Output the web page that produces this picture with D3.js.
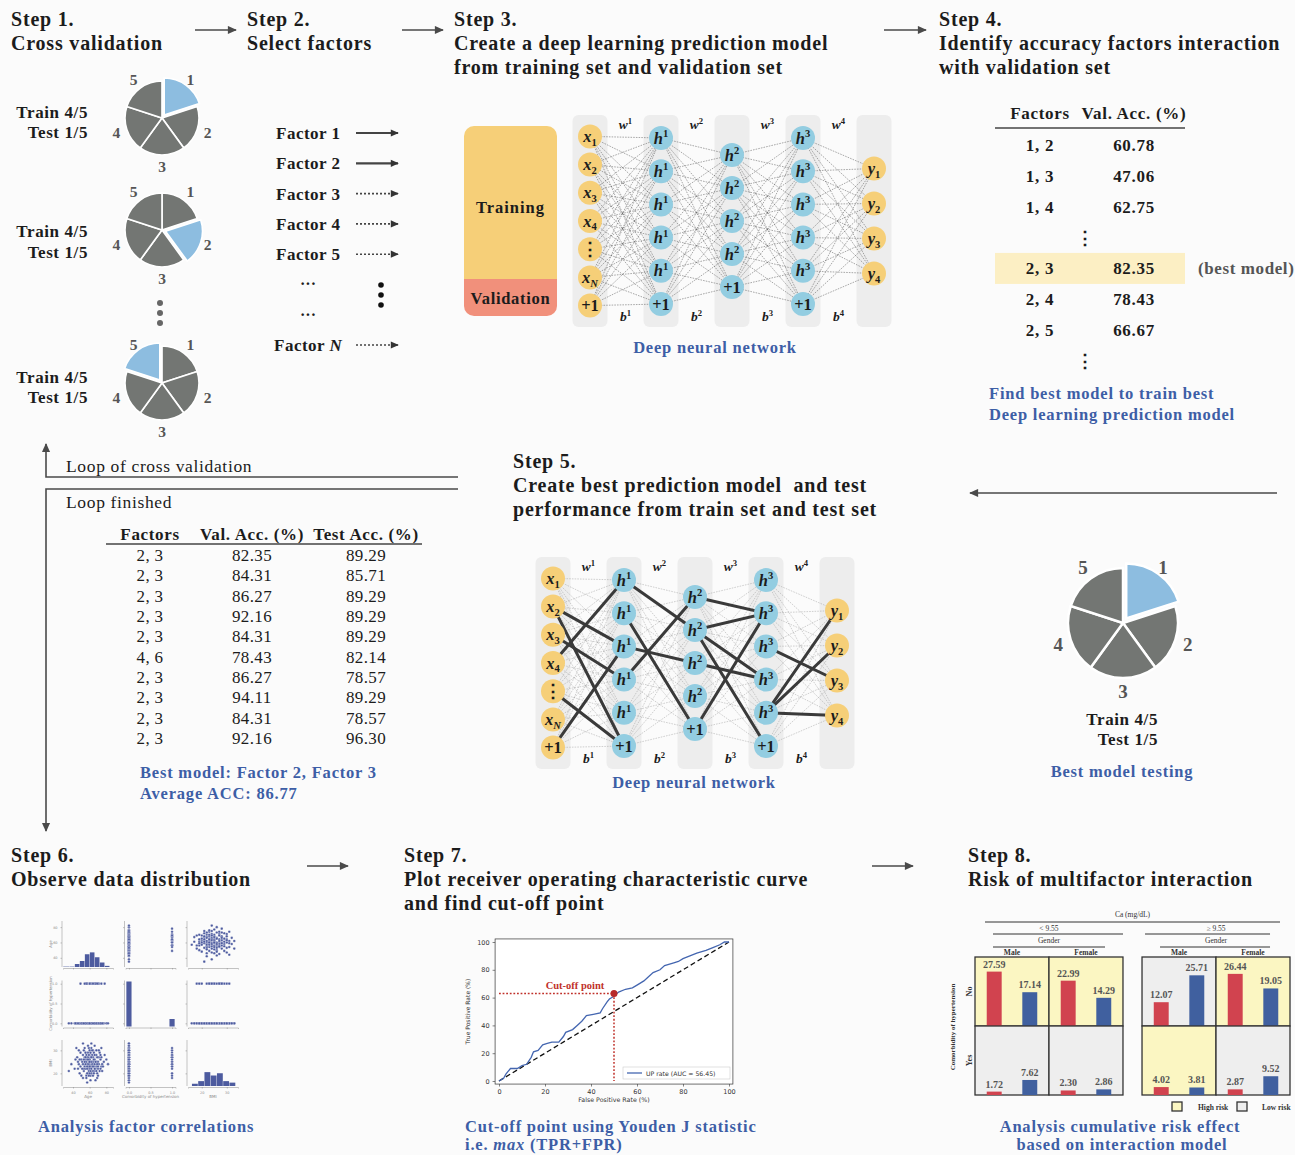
<!DOCTYPE html>
<html><head><meta charset="utf-8">
<script src="https://cdn.jsdelivr.net/npm/d3@7"></script>
<style>body{margin:0;background:#fbfbfb} svg{display:block}</style>
</head><body><svg id="c" width="1295" height="1155"></svg>
<script>
// ---------------- DATA ----------------
const stepTitles = [
  ["Step 1.", "Cross validation"],
  ["Step 2.", "Select factors"],
  ["Step 3.", "Create a deep learning prediction model", "from training set and validation set"],
  ["Step 4.", "Identify accuracy factors interaction", "with validation set"],
  ["Step 5.", "Create best prediction model \u00a0and test", "performance from train set and test set"],
  ["Step 6.", "Observe data distribution"],
  ["Step 7.", "Plot receiver operating characteristic curve", "and find cut-off point"],
  ["Step 8.", "Risk of multifactor interaction"]
];
const foldLabels = ["1", "2", "3", "4", "5"];
const foldShares = [1, 1, 1, 1, 1];
const cvTestFold = [0, 1, 4];           // highlighted (test) fold in the three CV pies
const factorNames = ["Factor 1", "Factor 2", "Factor 3", "Factor 4", "Factor 5"];
const factorSelected = [true, true, false, false, false];
const nnLabels = [
  ["x_1", "x_2", "x_3", "x_4", "⋮", "x_N", "+1"],
  ["h^1", "h^1", "h^1", "h^1", "h^1", "+1"],
  ["h^2", "h^2", "h^2", "h^2", "+1"],
  ["h^3", "h^3", "h^3", "h^3", "h^3", "+1"],
  ["y_1", "y_2", "y_3", "y_4"]
];
const nnStrongEdges = [ // [layer, fromNode, toNode] highlighted in the best model
  [0,3,0],[0,1,2],[0,1,5],[0,2,3],[0,4,5],[0,6,2],
  [1,0,1],[1,1,4],[1,2,2],[1,3,0],
  [2,0,1],[2,1,1],[2,1,5],[2,1,3],[2,2,3],[2,4,1],
  [3,2,2],[3,4,0],[3,4,1],[3,4,3]
];
const valFactors = ["1, 2", "1, 3", "1, 4", "⋮", "2, 3", "2, 4", "2, 5", "⋮"];
const valAcc = ["60.78", "47.06", "62.75", "", "82.35", "78.43", "66.67", ""];
const bestRow = 4;
const loopFactors = ["2, 3","2, 3","2, 3","2, 3","2, 3","4, 6","2, 3","2, 3","2, 3","2, 3"];
const loopVal = [82.35, 84.31, 86.27, 92.16, 84.31, 78.43, 86.27, 94.11, 84.31, 92.16];
const loopTest = [89.29, 85.71, 89.29, 89.29, 89.29, 82.14, 78.57, 89.29, 78.57, 96.30];
// Step 6 sample: [age, bmi, hypertension]
const sample = [
 [58,22,0],[63,25,0],[71,27,1],[49,23,0],[66,21,0],[55,26,0],[60,24,1],[74,23,0],[52,28,0],[68,25,0],
 [61,19,0],[57,24,0],[45,27,0],[64,30,1],[70,22,0],[59,26,0],[53,21,0],[67,28,0],[62,23,0],[56,25,1],
 [48,20,0],[73,26,0],[65,24,0],[58,29,0],[61,27,1],[54,23,0],[69,20,0],[60,22,0],[77,25,0],[51,25,0],
 [63,21,0],[57,27,0],[66,26,1],[59,23,0],[72,29,0],[47,24,0],[62,31,0],[55,22,0],[68,23,1],[64,27,0],
 [50,26,0],[58,20,0],[75,24,0],[61,25,0],[53,30,0],[67,22,1],[60,28,0],[56,19,0],[70,25,0],[65,23,0],
 [42,22,0],[59,25,0],[63,28,1],[57,22,0],[71,24,0],[54,27,0],[66,24,0],[62,20,0],[49,29,1],[60,26,0],
 [68,21,0],[55,24,0],[73,22,0],[58,27,0],[64,25,1],[52,24,0],[61,23,0],[80,26,0],[46,25,0],[65,29,0],
 [59,21,0],[63,24,0],[56,28,1],[69,27,0],[62,25,0],[54,25,0],[67,25,0],[60,20,1],[57,26,0],[72,21,0],
 [48,26,0],[66,22,0],[61,29,0],[58,24,0],[74,27,1],[53,22,0],[64,21,0],[59,28,0],[70,23,0],[55,27,0],
 [38,24,0],[62,27,0],[65,26,0],[57,23,1],[68,28,0],[60,25,0],[51,22,0],[63,23,0],[76,23,0],[58,26,0],
 [44,31,0],[82,24,0],[35,21,0],[66,32,0],[61,17,0],[78,28,1],[52,33,0],[69,18,0],[47,30,0],[57,16,0],
 [64,19,0],[59,31,0],[71,30,0],[56,18,1],[62,33,0],[67,17,0],[50,19,0],[74,31,0],[43,26,0],[60,30,0],
 [65,20,0],[58,32,0],[55,29,0],[70,19,1],[63,30,0],[52,18,0],[61,21,0],[68,30,0],[57,20,0],[73,28,0],
 [46,22,0],[66,28,0],[54,31,1],[62,22,0],[59,19,0],[75,21,0],[64,23,0],[53,26,0],[60,23,0],[69,24,1]
];
const sampleVars = ["Age", "Comorbidity of hypertension", "BMI"];
// Step 7 ROC curve (%)
const rocFPR = [0,2,3,5,8,10,12,14,15,17,19,21,23,26,28,29,32,34,36,38,41,44,45,47,48,50,52,55,58,60,63,65,67,70,72,76,78,80,83,86,90,93,96,98,100];
const rocTPR = [0,2,5,9,9,11,12,17,21,22,26,27,28,28,32,35,37,40,43,47,48,49,52,57,59,61,64,66,67,69,72,75,78,80,83,85,86,88,90,92,94,96,98,100,100];
const rocTicks = [0, 20, 40, 60, 80, 100];
const cutoffPoint = [50, 63];
const rocLegend = "UP rate (AUC = 56.45)";
// Step 8 cumulative risk
const caGroups = ["< 9.55", "≥ 9.55"];
const genders = ["Male", "Female"];
const htnLevels = ["No", "Yes"];
const riskRed  = [[27.59, 22.99, 12.07, 26.44], [1.72, 2.30, 4.02, 2.87]];
const riskBlue = [[17.14, 14.29, 25.71, 19.05], [7.62, 2.86, 3.81, 9.52]];
const highRisk = [[1, 1, 0, 1], [0, 0, 1, 0]];

// ---------------- STYLE ----------------
const SERIF = "'Liberation Serif','Times New Roman',serif";
const SANS = "'DejaVu Sans',sans-serif";
const INK = "#1c1c1c", BLUE = "#3d5ea6", GT = "#555", LINE = "#4a4a4a";
const YEL = "#f6cf78", SKY = "#93cde1", SLATE = "#737673", FOLD = "#8dbde0";
const CAP = { fs: 16.5, fill: BLUE, ls: 0.8 };

const svg = d3.select("#c");
svg.append("rect").attr("width", 1295).attr("height", 1155).attr("fill", "#fbfbfb");
const defs = svg.append("defs");
function marker(id, w, h, color) {
  defs.append("marker").attr("id", id).attr("viewBox", "0 0 10 10").attr("refX", 9).attr("refY", 5)
    .attr("markerWidth", w).attr("markerHeight", h).attr("markerUnits", "userSpaceOnUse")
    .attr("orient", "auto-start-reverse")
    .append("path").attr("d", "M0,0.5 L10,5 L0,9.5 Z").attr("fill", color);
}
marker("ah", 11, 9, LINE);
marker("ahs", 9, 8, "#333");

function text(g, x, y, s, o = {}) {
  return g.append("text").attr("x", x).attr("y", y).text(s)
    .attr("font-family", o.ff || SERIF).attr("font-size", o.fs || 16)
    .attr("font-weight", o.fw || "bold").attr("fill", o.fill || INK)
    .attr("text-anchor", o.anchor || "start")
    .attr("letter-spacing", o.ls || null);
}
function header(x, y, lines) {
  const t = svg.append("text").attr("font-family", SERIF).attr("font-size", 20)
    .attr("font-weight", "bold").attr("fill", INK).attr("letter-spacing", 0.8);
  lines.forEach((l, i) => t.append("tspan").attr("x", x).attr("y", y + i * 24).text(l));
}
function arrow(x1, y1, x2, y2, o = {}) {
  svg.append("line").attr("x1", x1).attr("y1", y1).attr("x2", x2).attr("y2", y2)
    .attr("stroke", o.color || LINE).attr("stroke-width", o.w || 1.6)
    .attr("stroke-dasharray", o.dash || null).attr("marker-end", `url(#${o.m || "ah"})`);
}
function rich(g, x, y, s, fs, o = {}) {
  const t = g.append("text").attr("x", x).attr("y", y).attr("text-anchor", "middle")
    .attr("font-family", SERIF).attr("font-size", fs).attr("font-weight", "bold").attr("fill", o.fill || INK);
  const m = s.match(/^(.+)([_^])(.+)$/);
  if (m) {
    t.append("tspan").attr("font-style", "italic").text(m[1]);
    t.append("tspan").attr("font-size", fs * 0.64).attr("dy", m[2] === "_" ? fs * 0.22 : -fs * 0.4)
      .attr("font-style", /\d/.test(m[3]) ? "normal" : "italic").text(m[3]);
  } else t.text(s);
  return t;
}

// headers
const headerPos = [[11,26],[247,26],[454,26],[939,26],[513,468],[11,862],[404,862],[968,862]];
stepTitles.forEach((l, i) => header(headerPos[i][0], headerPos[i][1], l));
// step arrows
arrow(195, 30, 236, 30); arrow(402, 30, 443, 30); arrow(884, 30, 926, 30);
arrow(1277, 493, 970, 493);
arrow(307, 866, 348, 866); arrow(872, 866, 913, 866);

// ---------------- FOLD PIES ----------------
const pieGen = d3.pie().sort(null).value(d => d);
function foldPie(cx, cy, r, hi, fs, lr) {
  const g = svg.append("g").attr("transform", `translate(${cx},${cy})`);
  const arcs = pieGen(foldShares);
  const arc = d3.arc().innerRadius(0).outerRadius(r);
  g.selectAll("path").data(arcs).join("path")
    .attr("d", arc)
    .attr("transform", (d, i) => {
      if (i !== hi) return null;
      const a = (d.startAngle + d.endAngle) / 2, off = r * 0.1;
      return `translate(${Math.sin(a) * off},${-Math.cos(a) * off})`;
    })
    .attr("fill", (d, i) => i === hi ? FOLD : SLATE)
    .attr("stroke", "#fff").attr("stroke-width", r * 0.045);
  g.selectAll("text").data(arcs).join("text")
    .attr("x", d => Math.sin((d.startAngle + d.endAngle) / 2) * r * lr)
    .attr("y", d => -Math.cos((d.startAngle + d.endAngle) / 2) * r * lr)
    .attr("dy", "0.35em").attr("text-anchor", "middle")
    .attr("font-family", SERIF).attr("font-size", fs).attr("font-weight", "bold").attr("fill", GT)
    .text((d, i) => foldLabels[i]);
}
const cvY = [118, 230, 383];
cvY.forEach((y, i) => {
  foldPie(162, y, 37, cvTestFold[i], 15.5, 1.3);
  text(svg, 88, y + (i === 1 ? 7 : 0), "Train 4/5", { anchor: "end", fs: 17, ls: 0.6 });
  text(svg, 88, y + (i === 1 ? 28 : 20), "Test 1/5", { anchor: "end", fs: 17, ls: 0.6 });
});
[303, 313, 323].forEach(y => svg.append("circle").attr("cx", 160).attr("cy", y).attr("r", 3).attr("fill", "#666"));

// ---------------- STEP 2 ----------------
factorNames.forEach((f, i) => {
  const y = 133 + i * 30.3;
  text(svg, 276, y + 6, f, { fs: 17, ls: 0.5 });
  if (factorSelected[i]) arrow(356, y, 398, y, { color: "#444", w: 2.2, m: "ahs" });
  else arrow(356, y, 398, y, { color: "#444", w: 1.6, dash: "2,2", m: "ahs" });
});
text(svg, 308, 289, "···", { anchor: "middle", fs: 16 });
text(svg, 308, 320, "···", { anchor: "middle", fs: 16 });
[285, 295, 305].forEach(y => svg.append("circle").attr("cx", 381).attr("cy", y).attr("r", 2.8).attr("fill", "#111"));
{
  const t = text(svg, 274, 351, "Factor ", { fs: 17, ls: 0.5 });
  t.append("tspan").attr("font-style", "italic").text("N");
  arrow(356, 345, 398, 345, { color: "#444", w: 1.6, dash: "2,2", m: "ahs" });
}

// ---------------- STEP 3 ----------------
{
  const g = svg.append("g");
  const cp = g.append("clipPath").attr("id", "tvclip");
  cp.append("rect").attr("x", 464).attr("y", 126).attr("width", 93).attr("height", 190).attr("rx", 10);
  const b = g.append("g").attr("clip-path", "url(#tvclip)");
  b.append("rect").attr("x", 464).attr("y", 126).attr("width", 93).attr("height", 153).attr("fill", YEL);
  b.append("rect").attr("x", 464).attr("y", 279).attr("width", 93).attr("height", 37).attr("fill", "#f1907b");
  text(g, 510.5, 213, "Training", { anchor: "middle", fs: 16.5, ls: 1 });
  text(g, 510.5, 304, "Validation", { anchor: "middle", fs: 16.5, ls: 0.7 });
}
const nnGap = [28.2, 33.2, 33, 33.2, 35];
function drawNN(x0, cy, top, bottom, strong, thin) {
  const g = svg.append("g");
  const lx = d3.scalePoint().domain(d3.range(nnLabels.length)).range([x0, x0 + 284]);
  const pos = nnLabels.map((labs, li) => labs.map((lab, ni) => ({
    x: lx(li), y: cy + (ni - (labs.length - 1) / 2) * nnGap[li], lab, li })));
  g.selectAll("rect.col").data(nnLabels).join("rect").attr("class", "col")
    .attr("x", (d, i) => lx(i) - 17.5).attr("y", top).attr("width", 35).attr("height", bottom - top)
    .attr("rx", 6).attr("fill", "#ededed");
  const edges = [];
  for (let li = 0; li < pos.length - 1; li++)
    pos[li].forEach(a => pos[li + 1].forEach(b => edges.push([a, b])));
  g.append("g").selectAll("line").data(edges).join("line")
    .attr("x1", d => d[0].x).attr("y1", d => d[0].y).attr("x2", d => d[1].x).attr("y2", d => d[1].y)
    .attr("stroke", thin.c).attr("stroke-width", thin.w).attr("stroke-dasharray", "1.6,1.1");
  g.append("g").selectAll("line").data(strong).join("line")
    .attr("x1", d => pos[d[0]][d[1]].x).attr("y1", d => pos[d[0]][d[1]].y)
    .attr("x2", d => pos[d[0] + 1][d[2]].x).attr("y2", d => pos[d[0] + 1][d[2]].y)
    .attr("stroke", "#3a3a3a").attr("stroke-width", 3).attr("stroke-linecap", "round");
  const nodes = pos.flat();
  g.append("g").selectAll("circle").data(nodes).join("circle")
    .attr("cx", d => d.x).attr("cy", d => d.y).attr("r", 12)
    .attr("fill", d => (d.li === 0 || d.li === nnLabels.length - 1) ? YEL : SKY);
  nodes.forEach(d => rich(g, d.x, d.y + 5.5, d.lab, d.lab === "⋮" ? 18 : 16.5));
  for (let li = 0; li < nnLabels.length - 1; li++) {
    const mx = (lx(li) + lx(li + 1)) / 2;
    rich(g, mx, top + 14, "w^" + (li + 1), 13.5);
    rich(g, mx, bottom - 6, "b^" + (li + 1), 13.5);
  }
  return g;
}
drawNN(590, 221, 115, 327, [], { c: "#555", w: 0.5 });
text(svg, 715, 353, "Deep neural network", Object.assign({ anchor: "middle" }, CAP));

// ---------------- STEP 4 ----------------
{
  const g = svg.append("g");
  const rowY = d3.scalePoint().domain(d3.range(valFactors.length)).range([145, 361]);
  const T = { anchor: "middle", fs: 17, ls: 0.7 };
  g.append("rect").attr("x", 995).attr("y", rowY(bestRow) - 15.5).attr("width", 190).attr("height", 31).attr("fill", "#fcefc4");
  text(g, 1040, 119, "Factors", T);
  text(g, 1134, 119, "Val. Acc. (%)", T);
  g.append("line").attr("x1", 995).attr("x2", 1185).attr("y1", 128).attr("y2", 128).attr("stroke", "#444").attr("stroke-width", 1.5);
  valFactors.forEach((f, i) => {
    if (f === "⋮") { text(g, 1085, rowY(i) + 6, "⋮", { anchor: "middle", fs: 18 }); return; }
    text(g, 1040, rowY(i) + 6, f, T);
    text(g, 1134, rowY(i) + 6, valAcc[i], T);
  });
  text(g, 1198, rowY(bestRow) + 6, "(best model)", { fs: 17, fill: GT, ls: 0.6 });
  text(g, 989, 399, "Find best model to train best", CAP);
  text(g, 989, 420, "Deep learning prediction model", CAP);
}

// ---------------- LOOP ----------------
svg.append("path").attr("d", "M458,477 H46 V444").attr("fill", "none").attr("stroke", LINE).attr("stroke-width", 1.6).attr("marker-end", "url(#ah)");
svg.append("path").attr("d", "M458,489 H46 V831").attr("fill", "none").attr("stroke", LINE).attr("stroke-width", 1.6).attr("marker-end", "url(#ah)");
text(svg, 66, 472, "Loop of cross validation", { fw: "normal", fs: 17.5, ls: 0.65 });
text(svg, 66, 508, "Loop finished", { fw: "normal", fs: 17.5, ls: 0.65 });
{
  const g = svg.append("g");
  const cols = [150, 252, 366];
  ["Factors", "Val. Acc. (%)", "Test Acc. (%)"].forEach((h, i) => text(g, cols[i], 540, h, { anchor: "middle", fs: 17, ls: 0.65 }));
  g.append("line").attr("x1", 106).attr("x2", 422).attr("y1", 544).attr("y2", 544).attr("stroke", "#444").attr("stroke-width", 1.3);
  const ry = d3.scalePoint().domain(d3.range(loopFactors.length)).range([555, 738]);
  const R = { anchor: "middle", fw: "normal", fs: 17, ls: 0.35 };
  loopFactors.forEach((f, i) => {
    text(g, cols[0], ry(i) + 6, f, R);
    text(g, cols[1], ry(i) + 6, loopVal[i].toFixed(2), R);
    text(g, cols[2], ry(i) + 6, loopTest[i].toFixed(2), R);
  });
  text(g, 140, 778, "Best model: Factor 2, Factor 3", CAP);
  text(g, 140, 799, "Average ACC: " + d3.mean(loopTest).toFixed(2), CAP);
}

// ---------------- STEP 5 ----------------
drawNN(553, 663, 557, 769, nnStrongEdges, { c: "#999", w: 0.45 });
text(svg, 694, 788, "Deep neural network", Object.assign({ anchor: "middle" }, CAP));
foldPie(1123, 623, 55, 0, 19, 1.24);
text(svg, 1158, 725, "Train 4/5", { anchor: "end", fs: 17, ls: 0.6 });
text(svg, 1158, 745, "Test 1/5", { anchor: "end", fs: 17, ls: 0.6 });
text(svg, 1122, 777, "Best model testing", Object.assign({ anchor: "middle" }, CAP));

// ---------------- STEP 6: pair plot ----------------
{
  const g = svg.append("g");
  const acc = [d => d[0], d => d[2], d => d[1]];
  const doms = [[28, 88], [-0.08, 1.08], [14.5, 34.5]];
  const tickVals = [[40, 60, 80], [0, 0.5, 1], [20, 30]];
  const W = 50, H = 46;
  const px = j => 63 + j * 62.5, py = i => 921 + i * 59.5;
  const PT = "#4d5b9f";
  const binsFor = j => d3.bin().value(acc[j]).domain(doms[j])
    .thresholds(j === 1 ? [0.08, 0.92] : (j === 0 ? d3.range(36, 88, 6) : d3.range(16, 34.5, 2.5)))(sample);
  const allBins = [0, 1, 2].map(binsFor);
  const hMax = d3.max(allBins.flat(), b => b.length);
  for (let i = 0; i < 3; i++) for (let j = 0; j < 3; j++) {
    const p = g.append("g").attr("transform", `translate(${px(j)},${py(i)})`);
    const x = d3.scaleLinear().domain(doms[j]).range([0, W]);
    let y;
    if (i === j) {
      const bins = allBins[j];
      y = d3.scaleLinear().domain([0, hMax]).range([H, 1]);
      const cat = j === 1;
      p.selectAll("rect").data(bins.filter(b => b.length)).join("rect")
        .attr("x", b => cat ? x(acc[j](b[0]) - 0.06) : x(b.x0) + 0.2)
        .attr("width", b => cat ? x(0.12) - x(0) : Math.max(0, x(b.x1) - x(b.x0) - 0.4))
        .attr("y", b => y(b.length)).attr("height", b => H - y(b.length)).attr("fill", PT);
    } else {
      y = d3.scaleLinear().domain(doms[i]).range([H, 0]);
      p.selectAll("circle").data(sample).join("circle")
        .attr("cx", d => x(acc[j](d))).attr("cy", d => y(acc[i](d))).attr("r", 1.3)
        .attr("fill", PT).attr("stroke", "#fff").attr("stroke-width", 0.3);
    }
    const ax = p.append("g").attr("transform", `translate(0,${H + 1})`)
      .call(d3.axisBottom(x).tickValues(tickVals[j]).tickSize(1.5).tickFormat(d3.format(j === 1 ? ".1f" : "")));
    const ay = p.append("g").attr("transform", "translate(-1,0)")
      .call(d3.axisLeft(i === j ? d3.scaleLinear().domain(doms[i]).range([H, 0]) : y).tickValues(tickVals[i]).tickSize(1.5)
        .tickFormat(d3.format(i === 1 ? ".1f" : "")));
    [ax, ay].forEach(a => {
      a.selectAll("path,line").attr("stroke", "#888").attr("stroke-width", 0.5);
      a.selectAll("text").attr("font-size", 3.4).attr("fill", "#888").attr("font-family", SANS);
    });
    ay.select(".domain").attr("d", `M0,${H}V0`);
    if (i !== 2) ax.selectAll("text").remove();
    if (j !== 0) ay.selectAll("text").remove();
    if (j === 0) p.append("text").attr("transform", `translate(-11,${H / 2}) rotate(-90)`).attr("text-anchor", "middle")
      .attr("font-size", 3.8).attr("font-family", SANS).attr("fill", "#888").text(sampleVars[i]);
    if (i === 2) p.append("text").attr("x", W / 2).attr("y", H + 12).attr("text-anchor", "middle")
      .attr("font-size", 4).attr("font-family", SANS).attr("fill", "#888").text(sampleVars[j]);
  }
  text(svg, 38, 1132, "Analysis factor correlations", CAP);
}

// ---------------- STEP 7: ROC ----------------
{
  const g = svg.append("g");
  const x = d3.scaleLinear().domain([0, 100]).range([499, 729]);
  const y = d3.scaleLinear().domain([0, 100]).range([1081, 942]);
  g.append("rect").attr("x", x(-1.7)).attr("y", y(102.2)).attr("width", x(101.7) - x(-1.7))
    .attr("height", y(-2.2) - y(102.2)).attr("fill", "#fff").attr("stroke", "#333").attr("stroke-width", 0.7);
  const ax = g.append("g").attr("transform", `translate(0,${y(-2.2)})`).call(d3.axisBottom(x).tickValues(rocTicks).tickSize(2.5));
  const ay = g.append("g").attr("transform", `translate(${x(-1.7)},0)`).call(d3.axisLeft(y).tickValues(rocTicks).tickSize(2.5));
  [ax, ay].forEach(a => {
    a.select(".domain").remove();
    a.selectAll("line").attr("stroke", "#333").attr("stroke-width", 0.6);
    a.selectAll("text").attr("font-size", 6.5).attr("fill", "#333").attr("font-family", SANS);
  });
  g.append("text").attr("transform", `translate(470,${y(50)}) rotate(-90)`).attr("text-anchor", "middle")
    .attr("font-size", 6).attr("font-family", SANS).attr("fill", "#333").text("True Positive Rate (%)");
  g.append("text").attr("x", x(50)).attr("y", 1102).attr("text-anchor", "middle")
    .attr("font-size", 6.3).attr("font-family", SANS).attr("fill", "#333").text("False Positive Rate (%)");
  g.append("line").attr("x1", x(0)).attr("y1", y(0)).attr("x2", x(100)).attr("y2", y(100))
    .attr("stroke", "#111").attr("stroke-width", 1.3).attr("stroke-dasharray", "5,3");
  const pts = rocFPR.map((f, i) => [f, rocTPR[i]]);
  g.append("path").attr("d", d3.line().x(d => x(d[0])).y(d => y(d[1]))(pts))
    .attr("fill", "none").attr("stroke", "#4466b0").attr("stroke-width", 1.3);
  g.append("path").attr("d", `M${x(0)},${y(cutoffPoint[1])}H${x(cutoffPoint[0])}V${y(0)}`)
    .attr("fill", "none").attr("stroke", "#c0302a").attr("stroke-width", 1.5).attr("stroke-dasharray", "1.8,1.8");
  g.append("circle").attr("cx", x(cutoffPoint[0])).attr("cy", y(cutoffPoint[1])).attr("r", 3.5).attr("fill", "#b8292a");
  text(g, 575, 989, "Cut-off point", { anchor: "middle", fs: 10.5, fill: "#c0302a" });
  g.append("rect").attr("x", 623).attr("y", 1067).attr("width", 107).attr("height", 12)
    .attr("fill", "#fff").attr("stroke", "#ccc").attr("stroke-width", 0.6);
  g.append("line").attr("x1", 627).attr("x2", 642).attr("y1", 1073).attr("y2", 1073).attr("stroke", "#4466b0").attr("stroke-width", 1.3);
  g.append("text").attr("x", 646).attr("y", 1075.5).attr("font-size", 6.2).attr("font-family", SANS).attr("fill", "#333").text(rocLegend);
  text(svg, 465, 1132, "Cut-off point using Youden J statistic", CAP);
  const t = text(svg, 465, 1150, "i.e. ", CAP);
  t.append("tspan").attr("font-style", "italic").text("max");
  t.append("tspan").text(" (TPR+FPR)");
}

// ---------------- STEP 8: risk bars ----------------
{
  const g = svg.append("g");
  const gx = d3.scaleBand().domain(caGroups).range([975, 1290]).paddingInner(0.114);
  const sx = d3.scaleBand().domain(genders).range([0, gx.bandwidth()]);
  const ry = d3.scaleBand().domain(htnLevels).range([957, 1095]);
  const bx = d3.scaleBand().domain(["red", "blue"]).range([0, sx.bandwidth()]).paddingInner(0.58).paddingOuter(0.33);
  const vy = d3.scaleLinear().domain([0, 35]).range([0, ry.bandwidth()]);
  const small = (x, y, s, o = {}) => text(g, x, y, s, Object.assign({ fs: 7.5, fw: "normal", fill: "#333", anchor: "middle" }, o));
  small((975 + 1290) / 2, 917, "Ca (mg/dL)");
  g.append("line").attr("x1", 985).attr("x2", 1280).attr("y1", 922).attr("y2", 922).attr("stroke", "#333").attr("stroke-width", 1);
  caGroups.forEach((cg, k) => {
    const x0 = gx(cg), w = gx.bandwidth();
    small(x0 + w / 2, 931, cg);
    g.append("line").attr("x1", x0 + (k ? 3 : 18)).attr("x2", x0 + (k ? 128 : 148)).attr("y1", 934).attr("y2", 934).attr("stroke", "#333");
    small(x0 + w / 2, 943, "Gender");
    g.append("line").attr("x1", x0 + 18).attr("x2", x0 + (k ? 128 : 130)).attr("y1", 947).attr("y2", 947).attr("stroke", "#333");
    genders.forEach(gd => small(x0 + sx(gd) + sx.bandwidth() / 2, 955, gd, { fw: "bold" }));
    htnLevels.forEach((h, r) => genders.forEach((gd, s) => {
      const c = k * 2 + s, cx = x0 + sx(gd), cy = ry(h), cw = sx.bandwidth(), ch = ry.bandwidth();
      g.append("rect").attr("x", cx).attr("y", cy).attr("width", cw).attr("height", ch)
        .attr("fill", highRisk[r][c] ? "#fbf6c2" : "#eeeeee").attr("stroke", "#333").attr("stroke-width", 1.3);
      [["red", riskRed[r][c], "#d1434f"], ["blue", riskBlue[r][c], "#40609f"]].forEach(([key, v, col]) => {
        g.append("rect").attr("x", cx + bx(key)).attr("width", bx.bandwidth())
          .attr("y", cy + ch - vy(v)).attr("height", vy(v)).attr("fill", col);
        text(g, cx + bx(key) + bx.bandwidth() / 2, cy + ch - vy(v) - 4, v.toFixed(2),
          { anchor: "middle", fs: 10, fw: "bold", fill: "#555" });
      });
    }));
  });
  htnLevels.forEach(h => g.append("text").attr("transform", `translate(972,${ry(h) + ry.bandwidth() / 2}) rotate(-90)`)
    .attr("text-anchor", "middle").attr("font-family", SERIF).attr("font-weight", "bold").attr("font-size", 8).attr("fill", "#333").text(h));
  g.append("text").attr("transform", `translate(955,${ry.range()[0] + 70}) rotate(-90)`)
    .attr("text-anchor", "middle").attr("font-family", SERIF).attr("font-weight", "bold").attr("font-size", 7).attr("fill", "#333").text("Comorbidity of hypertension");
  [["#fbf6c2", 1172, "High risk", 1198], ["#eeeeee", 1237, "Low risk", 1262]].forEach(([c, x, l, tx]) => {
    g.append("rect").attr("x", x).attr("y", 1102).attr("width", 10).attr("height", 9).attr("fill", c).attr("stroke", "#333").attr("stroke-width", 1.3);
    text(g, tx, 1110, l, { fs: 7.5, fill: "#333" });
  });
  text(svg, 1120, 1132, "Analysis cumulative risk effect", Object.assign({ anchor: "middle" }, CAP));
  text(svg, 1122, 1150, "based on interaction model", Object.assign({ anchor: "middle" }, CAP));
}
</script></body></html>
